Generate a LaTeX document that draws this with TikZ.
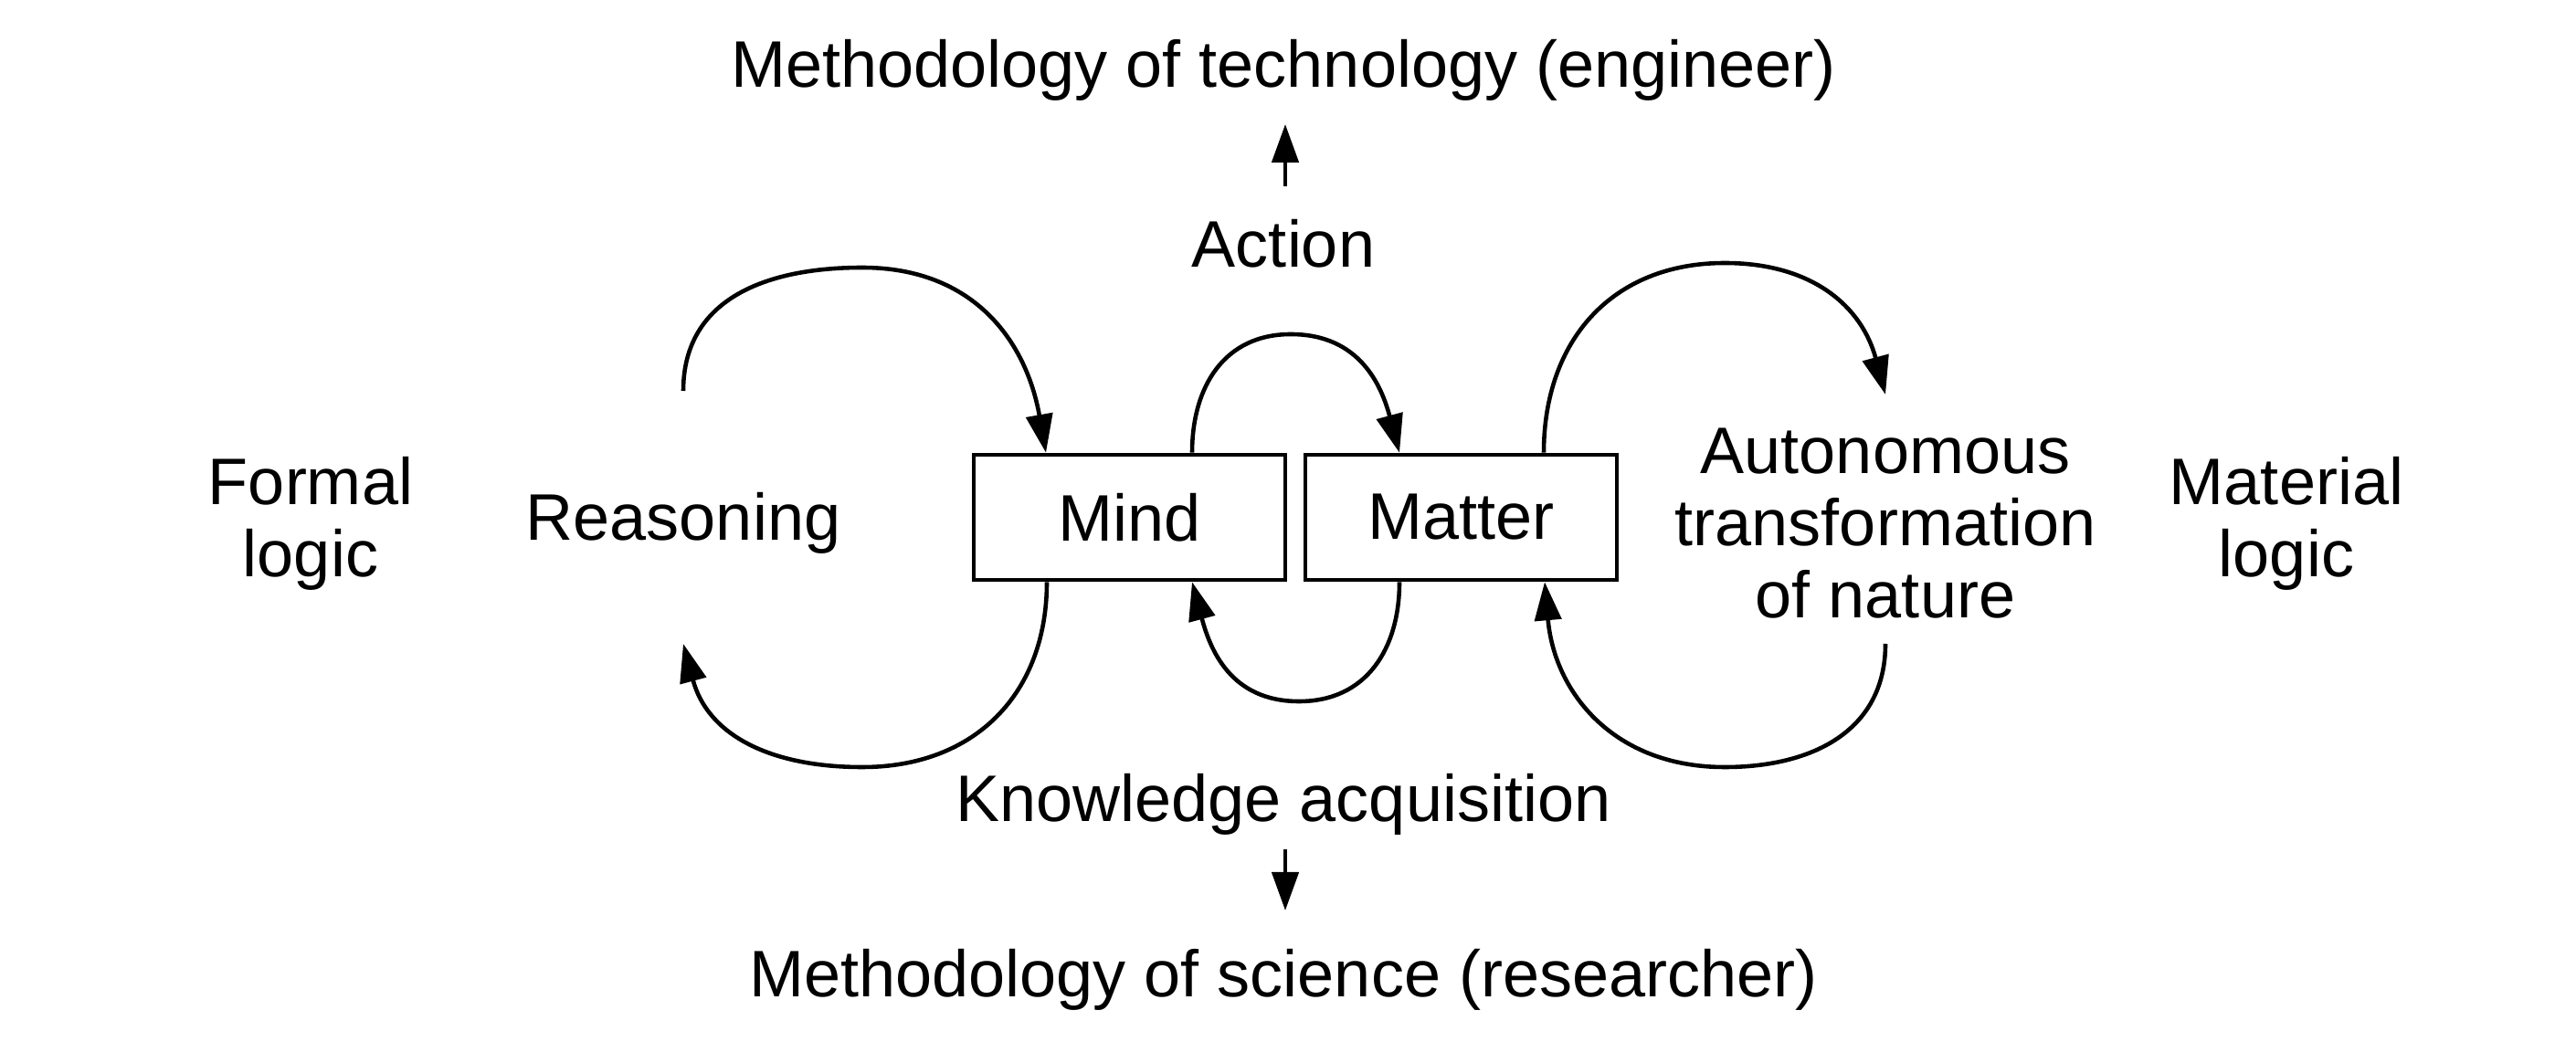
\documentclass[tikz,border=0pt]{standalone}
\usepackage{fontspec}
\setmainfont{Liberation Sans}
\usetikzlibrary{calc,arrows.meta}
\tikzset{arr/.style={-{Triangle[length=4.2mm,width=2.9mm]}}}
\def\drawloop{\draw[line width=1.3pt,looseness=1.1]}
\def\blocknode{\node[draw=black,line width=1.3pt,minimum width=3.41cm,minimum height=1.37cm]}
\def\textnode{\node[align=center,yshift=-0.5mm]}

\begin{document}
\begin{tikzpicture}[font=\fontsize{20.5}{22.5}\selectfont]
\useasboundingbox (0,0) rectangle (28.2,11.4);
\coordinate (o) at (14.05,5.72); % everything is placed relative to (o)

% Mind and Matter
\blocknode (mind) at ($ (o) + (-1.685,0.015) $) {Mind};
\blocknode (matter) at ($ (o) + (1.945,0.015) $) {Matter};

% Labels around the boxes
\textnode (formal) at ($ (o) - (10.65,0) $) {Formal\\logic};
\textnode (reason) at ($ (o) - (6.57,0) $) {Reasoning};
\textnode (nature) at ($ (o) + (6.59,0) $) {Autonomous\\transformation\\of nature};
\textnode (material) at ($ (o) + (10.98,0) $) {Material\\logic};
\textnode (action) at ($ (o) + (0,3.06) $) {Action};
\textnode (tech) at ($ (o) + (0,4.96) $) {Methodology of technology (engineer)};
\textnode (know) at ($ (o) - (0,3.08) $) {Knowledge acquisition};
\textnode (sci) at ($ (o) - (0,5.0) $) {Methodology of science (researcher)};

% Action goes up, knowledge goes down
\drawloop[arr] ($ (action) + (0.02,0.63) $) -- ($ (tech) + (0.02,-0.59) $);
\drawloop[arr] ($ (know) + (0.02,-0.49) $) -- ($ (sci) + (0.02,0.76) $);

% Reasoning loop on the left
\coordinate (reason_top) at ($ (o) + (-6.57,1.40) $);
\coordinate (reason_bot) at ($ (o) + (-6.57,-1.37) $);
\coordinate (left_peak) at ($ (o) + (-4.61,2.75) $);
\coordinate (left_low) at ($ (o) + (-4.61,-2.72) $);
\drawloop[arr] (reason_top) to[out=90,in=180] (left_peak)
  to[out=0,in=100] ([xshift=-9.15mm]mind.north);
\drawloop[arr] ([xshift=-9.05mm]mind.south) to[out=270,in=0] (left_low)
  to[out=180,in=-75] (reason_bot);

% Mind and matter act on each other
\coordinate (mid_peak) at ($ (o) + (0.08,2.02) $);
\coordinate (mid_low) at ($ (o) + (0.17,-2.0) $);
\drawloop[arr] ([xshift=6.85mm]mind.north) to[out=90,in=180] (mid_peak)
  to[out=0,in=105] ([xshift=-6.75mm]matter.north);
\drawloop[arr] ([xshift=-6.75mm]matter.south) to[out=270,in=0] (mid_low)
  to[out=180,in=-75] ([xshift=6.85mm]mind.south);

% Nature loop on the right
\coordinate (nature_top) at ($ (o) + (6.59,1.36) $);
\coordinate (nature_bot) at ($ (o) + (6.59,-1.37) $);
\coordinate (right_peak) at ($ (o) + (4.83,2.80) $);
\coordinate (right_low) at ($ (o) + (4.83,-2.72) $);
\drawloop[arr] ([xshift=9.05mm]matter.north) to[out=90,in=180] (right_peak)
  to[out=0,in=105] (nature_top);
\drawloop[arr] (nature_bot) to[out=270,in=0] (right_low)
  to[out=180,in=-85] ([xshift=9.15mm]matter.south);
\end{tikzpicture}
\end{document}
